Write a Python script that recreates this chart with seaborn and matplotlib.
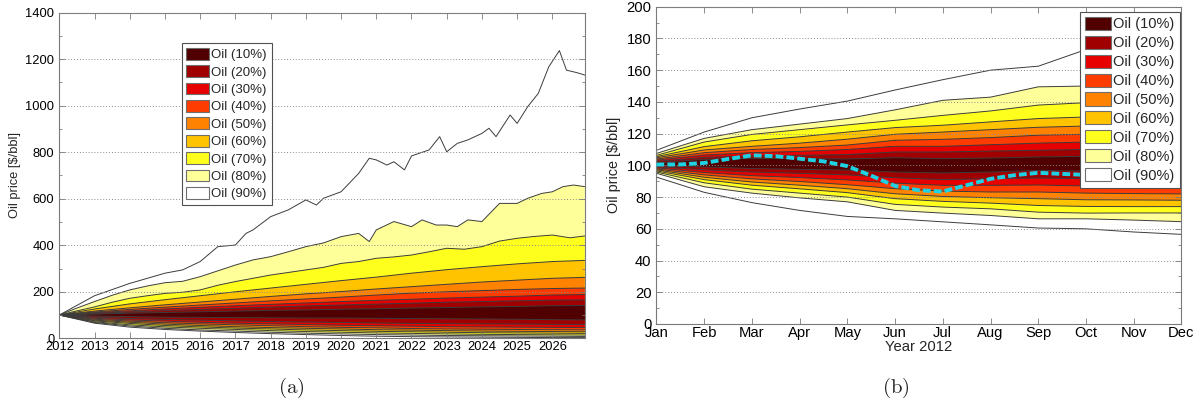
import numpy as np
import matplotlib
matplotlib.use("Agg")
import matplotlib.pyplot as plt
from matplotlib.patches import Patch
import seaborn as sns

# ---------------- data ----------------
LEVELS = [10, 20, 30, 40, 50, 60, 70, 80, 90]
BAND_COLORS = ['#500000', '#a00000', '#e60000', '#ff3c00', '#ff8200',
               '#ffc300', '#ffff1e', '#ffff99', '#ffffff']

# (a) long-term fan, 2012 - 2026
YEARS = [2012, 2013, 2014, 2015, 2016, 2017, 2018, 2019, 2020, 2021,
         2022, 2023, 2024, 2025, 2026, 2026.92]
A_U10 = [100, 104, 108, 111, 114, 117, 120, 122, 125, 127, 130, 132, 135, 137, 140, 141]
A_U20 = [100, 107, 113, 119, 124, 129, 134, 139, 143, 147, 151, 155, 158, 161, 164, 165]
A_U30 = [100, 110, 118, 126, 133, 140, 146, 152, 158, 163, 168, 173, 177, 181, 186, 188]
A_U40 = [100, 113, 124, 134, 143, 152, 161, 169, 177, 186, 194, 200, 205, 210, 214, 216]
A_U50 = [100, 117, 131, 144, 156, 168, 180, 191, 201, 212, 222, 232, 242, 250, 258, 262]
A_U60 = [100, 126, 148, 166, 183, 200, 216, 232, 248, 263, 280, 295, 308, 320, 330, 335]
A_L10 = [100, 96, 93, 91, 90, 89, 88, 87, 87, 86, 85, 84, 83, 82, 80, 79]
A_L20 = [100, 91, 85, 81, 78, 75, 72, 70, 68, 66, 64, 63, 62, 61, 60, 59]
A_L30 = [100, 86, 79, 74, 69, 65, 62, 59, 56, 54, 52, 50, 49, 48, 47, 46]
A_L40 = [100, 82, 74, 67, 62, 58, 54, 50, 47, 45, 42, 40, 39, 38, 37, 36]
A_L50 = [100, 78, 69, 61, 55, 50, 46, 43, 40, 37, 35, 33, 31, 30, 29, 28]
A_L60 = [100, 75, 64, 55, 49, 44, 40, 36, 33, 30, 28, 26, 24, 23, 22, 21]
A_L70 = [100, 71, 58, 49, 43, 38, 33, 29, 26, 23, 21, 19, 17, 16, 15, 14]
A_L80 = [100, 68, 53, 43, 36, 31, 26, 22, 19, 16, 14, 12, 11, 10, 9, 8]
A_L90 = [100, 65, 48, 38, 31, 25, 20, 16, 12, 9, 7, 6, 5, 4, 3, 3]

HALF_YEARS = [2012, 2012.5, 2013, 2013.5, 2014, 2014.5, 2015, 2015.5, 2016, 2016.5,
              2017, 2017.5, 2018, 2018.5, 2019, 2019.5, 2020, 2020.5, 2021, 2021.5,
              2022, 2022.5, 2023, 2023.5, 2024, 2024.5, 2025, 2025.5, 2026, 2026.5, 2026.92]
A_U70 = [100, 118, 135, 155, 172, 183, 193, 198, 208, 228, 244, 258, 272, 283, 294, 305,
         322, 330, 344, 350, 358, 372, 387, 383, 394, 418, 430, 438, 444, 432, 440]

T80 = [2012, 2012.5, 2013, 2013.5, 2014, 2014.5, 2015, 2015.5, 2016, 2016.5, 2017, 2017.5,
       2018, 2018.5, 2019, 2019.5, 2020, 2020.5, 2020.8, 2021, 2021.5, 2022, 2022.3, 2022.7,
       2023, 2023.3, 2023.6, 2024, 2024.5, 2025, 2025.3, 2025.7, 2026, 2026.3, 2026.6, 2026.92]
A_U80 = [100, 130, 158, 185, 208, 225, 239, 245, 265, 290, 315, 337, 351, 372, 394, 410,
         437, 451, 416, 466, 502, 480, 509, 487, 487, 480, 509, 502, 580, 580, 602, 623,
         630, 652, 659, 652]

T90 = [2012, 2013, 2014, 2015, 2015.5, 2016, 2016.5, 2017, 2017.3, 2017.5, 2018, 2018.5,
       2019, 2019.3, 2019.5, 2020, 2020.5, 2020.8, 2021, 2021.3, 2021.5, 2021.8, 2022,
       2022.5, 2022.8, 2023, 2023.3, 2023.6, 2024, 2024.2, 2024.4, 2024.8, 2025, 2025.3,
       2025.6, 2025.9, 2026.2, 2026.4, 2026.7, 2026.92]
A_U90 = [100, 183, 236, 280, 294, 330, 394, 401, 451, 466, 523, 552, 595, 573, 602, 630,
         709, 774, 767, 745, 759, 724, 784, 810, 867, 802, 838, 853, 881, 903, 867, 960,
         924, 996, 1053, 1168, 1237, 1153, 1142, 1132]

# (b) short-term fan, months of 2012
MONTHS = ['Jan', 'Feb', 'Mar', 'Apr', 'May', 'Jun', 'Jul', 'Aug', 'Sep', 'Oct', 'Nov', 'Dec']
B_U90 = [109.5, 121, 130, 135.5, 140.5, 147.5, 154, 160, 162.5, 173, 180, 186]
B_U80 = [107.5, 117, 122.5, 126, 129.5, 135, 141, 143, 149.5, 150, 154, 160]
B_U70 = [106.3, 114.7, 119.5, 122.5, 125.5, 128.4, 131.5, 134.3, 138, 139.5, 142, 145]
B_U60 = [105.5, 111.8, 115.5, 118, 121, 123.8, 125.3, 127.4, 129.5, 130.5, 132, 134]
B_U50 = [104.8, 109.7, 112, 114, 116.5, 119.6, 121, 122.5, 124, 124.8, 126, 127.5]
B_U40 = [104, 108, 110, 111.2, 112.8, 115.8, 116.4, 117.5, 119, 119.6, 120.3, 121]
B_U30 = [103.3, 106.5, 108, 108.8, 110, 112, 112, 113, 114, 114.7, 115.3, 116]
B_U20 = [102.5, 105, 106, 106.3, 106.8, 108.4, 108.4, 109, 109.5, 110, 110, 110.5]
B_U10 = [101.5, 103.8, 104.4, 104.2, 104, 104.8, 104.2, 104.6, 105.3, 105.7, 105.6, 105.5]
B_L10 = [99.8, 99, 98, 97.5, 97, 95.8, 95.2, 95.8, 96.8, 96.4, 96, 95.5]
B_L20 = [99.2, 97.2, 95.8, 95, 94, 92.2, 91, 91.6, 92, 91.6, 91.2, 90.7]
B_L30 = [98.5, 95.5, 93.5, 92.3, 90.8, 88.8, 87.4, 87.4, 87.6, 87, 86.7, 86.5]
B_L40 = [97.8, 94, 91.5, 89.8, 87.8, 85.3, 83.8, 83.2, 83.2, 82.5, 82.2, 82]
B_L50 = [97.2, 92.5, 89.5, 87.5, 85.3, 82.1, 80.4, 79.6, 79, 78.3, 78.2, 78]
B_L60 = [96.5, 91, 87.5, 85.2, 82.8, 79, 77.3, 76.2, 74.7, 74.1, 74, 74]
B_L70 = [95.8, 89, 85, 82.5, 80, 75.4, 73.7, 72.6, 70.5, 69.9, 70, 70]
B_L80 = [95, 86.5, 82.5, 79.5, 77, 71.6, 69.9, 68.4, 66.3, 66.3, 65.5, 64.5]
B_L90 = [92.6, 83, 76.5, 71.6, 67.8, 66.3, 64.4, 62.5, 60.5, 60, 58, 56.5]

# observed price path (month index, $/bbl)
OBS_T = [0, 0.5, 1, 1.5, 2, 2.5, 3, 3.5, 4, 4.5, 5, 5.5, 6, 6.5, 7, 7.5, 8, 8.5, 9]
OBS_P = [100.5, 100.6, 101.5, 104, 106.3, 105.8, 104.2, 102.5, 99.5, 93.5, 87, 84.3,
         83.5, 87.5, 91.5, 93.8, 95.3, 94.6, 94]

# ---------------- style ----------------
sns.set_style("ticks")
plt.rcParams['font.family'] = ['Liberation Sans', 'DejaVu Sans']
plt.rcParams['mathtext.fontset'] = 'cm'

LINE_C = '#3c3c3c'
SPINE_C = '#7a7a7a'


def draw_fan(ax, upper, lower):
    """upper/lower: lists of (t, values) from 10% to 90%."""
    # outer bands first, inner ones painted on top
    for i in range(len(LEVELS) - 1, -1, -1):
        tu, vu = upper[i]
        tl, vl = lower[i]
        xs = np.concatenate([np.asarray(tu, float), np.asarray(tl, float)[::-1]])
        ys = np.concatenate([np.asarray(vu, float), np.asarray(vl, float)[::-1]])
        ax.fill(xs, ys, color=BAND_COLORS[i], lw=0, zorder=1)
    for (t, v) in upper + lower:
        sns.lineplot(x=t, y=v, ax=ax, color=LINE_C, lw=0.7, legend=False, zorder=2)


def style_axes(ax, fs):
    for s in ax.spines.values():
        s.set_color(SPINE_C)
        s.set_linewidth(0.8)
    ax.tick_params(which='both', direction='in', top=True, right=True,
                   color=SPINE_C, width=0.6, labelsize=fs, labelcolor='black')
    ax.tick_params(which='major', length=4)
    ax.tick_params(which='minor', length=2.5)
    ax.tick_params(axis='x', which='minor', bottom=False, top=False)
    ax.yaxis.grid(True, which='major', linestyle=(0, (1, 2)), color='#8c8c8c', lw=0.7)
    ax.xaxis.grid(False)
    ax.set_axisbelow(False)


def add_legend(ax, fs, anchor, loc, hl):
    handles = [Patch(facecolor=c, edgecolor='#6e6e6e', linewidth=0.8) for c in BAND_COLORS]
    labels = [f'Oil ({p}%)' for p in LEVELS]
    leg = ax.legend(handles, labels, loc=loc, bbox_to_anchor=anchor, fontsize=fs,
                    frameon=True, fancybox=False, framealpha=1, handlelength=hl,
                    handleheight=1.0, labelspacing=0.3, handletextpad=0.15,
                    borderpad=0.35, borderaxespad=0)
    leg.get_frame().set_edgecolor('#505050')
    leg.get_frame().set_linewidth(0.8)
    leg.set_zorder(10)


fig = plt.figure(figsize=(12.01, 4.12), dpi=100)
axL = fig.add_axes([0.0494, 0.1789, 0.4375, 0.7903])
axR = fig.add_axes([0.5466, 0.2136, 0.4371, 0.7701])

# ---- (a) ----
upA = [(YEARS, A_U10), (YEARS, A_U20), (YEARS, A_U30), (YEARS, A_U40), (YEARS, A_U50),
       (YEARS, A_U60), (HALF_YEARS, A_U70), (T80, A_U80), (T90, A_U90)]
loA = [(YEARS, A_L10), (YEARS, A_L20), (YEARS, A_L30), (YEARS, A_L40), (YEARS, A_L50),
       (YEARS, A_L60), (YEARS, A_L70), (YEARS, A_L80), (YEARS, A_L90)]
draw_fan(axL, upA, loA)
axL.set_xlim(2012, 2026.92)
axL.set_ylim(0, 1400)
axL.set_xticks(list(range(2012, 2027)))
axL.set_xticklabels([str(y) for y in range(2012, 2027)])
axL.set_yticks(list(range(0, 1401, 200)))
axL.set_yticks(list(range(100, 1400, 200)), minor=True)
style_axes(axL, 9.3)
axL.tick_params(axis='x', pad=2)
axL.set_xlabel('')
axL.set_ylabel(r'Oil price [\$/bbl]', fontsize=9.3, labelpad=3)
add_legend(axL, 9.5, (0.233, 0.906), 'upper left', 1.75)

# ---- (b) ----
mi = list(range(12))
upB = [(mi, v) for v in [B_U10, B_U20, B_U30, B_U40, B_U50, B_U60, B_U70, B_U80, B_U90]]
loB = [(mi, v) for v in [B_L10, B_L20, B_L30, B_L40, B_L50, B_L60, B_L70, B_L80, B_L90]]
draw_fan(axR, upB, loB)
sns.lineplot(x=OBS_T, y=OBS_P, ax=axR, color='#1ed2e4', lw=2.8,
             linestyle=(0, (2, 0.8)), legend=False, zorder=3)
axR.set_xlim(0, 11)
axR.set_ylim(0, 200)
axR.set_xticks(mi)
axR.set_xticklabels(MONTHS)
axR.set_yticks(list(range(0, 201, 20)))
axR.set_yticks(list(range(10, 200, 20)), minor=True)
style_axes(axR, 10.6)
axR.tick_params(axis='x', pad=1.5)
axR.set_xlabel('Year 2012', fontsize=10.6, labelpad=0)
axR.set_ylabel(r'Oil price [\$/bbl]', fontsize=10.4, labelpad=4)
add_legend(axR, 10.5, (0.997, 0.984), 'upper right', 1.8)

# panel captions
fig.text(291 / 1201, 1 - 388 / 412, r'$\mathrm{(a)}$', ha='center', va='center', fontsize=15)
fig.text(896 / 1201, 1 - 388 / 412, r'$\mathrm{(b)}$', ha='center', va='center', fontsize=15)

fig.savefig('out.png', dpi=100)
